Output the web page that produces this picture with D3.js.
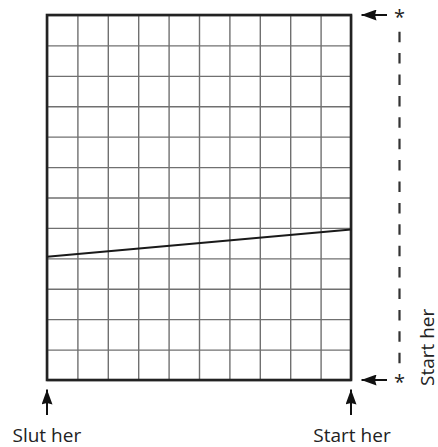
<!DOCTYPE html>
<html>
<head>
<meta charset="utf-8">
<script src="https://cdn.jsdelivr.net/npm/d3@7"></script>
<style>
  html, body { margin: 0; padding: 0; background: #fff; }
  svg { display: block; }
  text { font-family: "Open Sans", "DejaVu Sans", sans-serif; fill: #222; }
</style>
</head>
<body>
<div id="chart"></div>
<script>
// ---- data ----
const columnTicks = [0, 1, 2, 3, 4, 5, 6, 7, 8, 9, 10];
const rowTicks = [0, 1, 2, 3, 4, 5, 6, 7, 8, 9, 10, 11, 12];
const lineX = [0, 10];
const lineY = [4.05, 4.95];
const bottomLabels = ["Slut her", "Start her"];
const bottomLabelX = [0, 10];
const sideLabel = "Start her";
const starMark = "*";

// ---- layout ----
const W = 438, H = 447;
const svg = d3.select("#chart").append("svg").attr("width", W).attr("height", H);

const x = d3.scaleLinear().domain([0, 10]).range([47, 351]);
const y = d3.scaleLinear().domain([0, 12]).range([380, 15]);

const defs = svg.append("defs");
defs.append("marker")
  .attr("id", "head")
  .attr("viewBox", "0 0 15 11")
  .attr("refX", 15).attr("refY", 5.5)
  .attr("markerUnits", "userSpaceOnUse")
  .attr("markerWidth", 15).attr("markerHeight", 11)
  .attr("orient", "auto")
  .append("path").attr("d", "M0,0 L15,5.5 L0,11 L1.5,5.5 Z").attr("fill", "#111");

// grid via axes
const gridColor = "#707070";
const gx = svg.append("g")
  .attr("transform", `translate(0,${y(0)})`)
  .call(d3.axisBottom(x).tickValues(columnTicks).tickSize(-(y(0) - y(12))).tickFormat(""));
const gy = svg.append("g")
  .attr("transform", `translate(${x(0)},0)`)
  .call(d3.axisLeft(y).tickValues(rowTicks).tickSize(-(x(10) - x(0))).tickFormat(""));
[gx, gy].forEach(g => {
  g.select(".domain").remove();
  g.selectAll(".tick line").attr("stroke", gridColor).attr("stroke-width", 1.4);
});

// frame
svg.append("rect")
  .attr("x", x(0)).attr("y", y(12))
  .attr("width", x(10) - x(0)).attr("height", y(0) - y(12))
  .attr("fill", "none").attr("stroke", "#222").attr("stroke-width", 2.6);

// data line
const pts = lineX.map((d, i) => [d, lineY[i]]);
svg.append("path")
  .attr("d", d3.line().x(d => x(d[0])).y(d => y(d[1]))(pts))
  .attr("fill", "none").attr("stroke", "#1a1a1a").attr("stroke-width", 2);

// dashed side line
const dashX = 399.5;
svg.append("line")
  .attr("x1", dashX).attr("x2", dashX)
  .attr("y1", 31.7).attr("y2", 364)
  .attr("stroke", "#333").attr("stroke-width", 2.2)
  .attr("stroke-dasharray", "10.5,10.9");

// horizontal arrows at top and bottom rows
[12, 0].forEach(v => {
  svg.append("line")
    .attr("x1", 387).attr("x2", x(10) + 10.5)
    .attr("y1", y(v)).attr("y2", y(v))
    .attr("stroke", "#111").attr("stroke-width", 2)
    .attr("marker-end", "url(#head)");
  svg.append("text")
    .attr("x", dashX).attr("y", y(v) + 9)
    .attr("text-anchor", "middle")
    .attr("font-size", 20)
    .text(starMark);
});

// up arrows and bottom labels
bottomLabelX.forEach((v, i) => {
  svg.append("line")
    .attr("x1", x(v)).attr("x2", x(v))
    .attr("y1", 415).attr("y2", 389.5)
    .attr("stroke", "#111").attr("stroke-width", 2)
    .attr("marker-end", "url(#head)");
  svg.append("text")
    .attr("x", i === 0 ? 12.5 : x(v) + 1)
    .attr("y", 441.5)
    .attr("text-anchor", i === 0 ? "start" : "middle")
    .attr("font-size", 19)
    .text(bottomLabels[i]);
});

// rotated side label
svg.append("text")
  .attr("transform", `translate(433.5,386) rotate(-90)`)
  .attr("font-size", 19)
  .text(sideLabel);
</script>
</body>
</html>
